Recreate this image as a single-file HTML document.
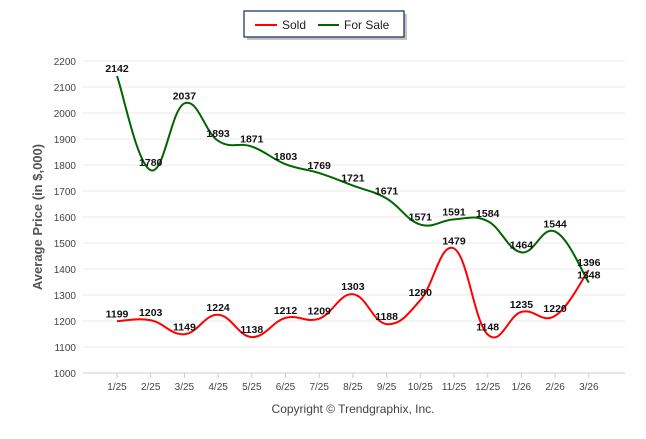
<!DOCTYPE html>
<html><head><meta charset="utf-8"><style>
body{margin:0;background:#fff;font-family:"Liberation Sans",sans-serif}
svg text{font-family:"Liberation Sans",sans-serif}
</style></head><body>
<svg width="646" height="434">
<g id="grid"></g><g id="axes"></g><g id="series"></g><g id="labels"></g>
<g>
<rect x="247" y="14" width="160" height="26" fill="#888" opacity="0.5"/>
<rect x="244" y="11" width="160" height="26" fill="#fff" stroke="#1f3864" stroke-width="1.3"/>
<line x1="255" y1="25" x2="277" y2="25" stroke="#f00" stroke-width="2"/>
<text x="282" y="29" font-size="12" fill="#222">Sold</text>
<line x1="318" y1="25" x2="339" y2="25" stroke="#006400" stroke-width="2"/>
<text x="344" y="29" font-size="12" fill="#222">For Sale</text>
</g>
<text transform="translate(42,217) rotate(-90)" text-anchor="middle" font-size="13" font-weight="bold" fill="#555">Average Price (in $,000)</text>
<text x="353" y="413" text-anchor="middle" font-size="12" fill="#444">Copyright © Trendgraphix, Inc.</text>
</svg>
<script>
const categories=["1/25","2/25","3/25","4/25","5/25","6/25","7/25","8/25","9/25","10/25","11/25","12/25","1/26","2/26","3/26"];
const sold=[1199,1203,1149,1224,1138,1212,1209,1303,1188,1280,1479,1148,1235,1220,1396];
const forSale=[2142,1780,2037,1893,1871,1803,1769,1721,1671,1571,1591,1584,1464,1544,1348];
const yTicks=[1000,1100,1200,1300,1400,1500,1600,1700,1800,1900,2000,2100,2200];
const NS="http://www.w3.org/2000/svg";
const x0=83,x1=625,yB=373,yT=61;
const step=33.7;
function xs(i){return 117+i*step;}
function ys(v){return yB-(v-1000)/1200*(yB-yT);}
function mk(tag,attrs,parent,txt){const e=document.createElementNS(NS,tag);for(const k in attrs)e.setAttribute(k,attrs[k]);if(txt!=null)e.textContent=txt;document.getElementById(parent).appendChild(e);return e;}
yTicks.forEach(v=>{
 const l=mk('line',{x1:x0,x2:x1,y1:ys(v),y2:ys(v),stroke:'#e8e8e8'},'grid');
 
 
 const t=mk('text',{x:76,y:ys(v)+4,'text-anchor':'end','font-size':'10',fill:'#444'},'axes',v);
 
 
});
const ax=mk('line',{x1:x0,x2:x1,y1:yB,y2:yB,stroke:'#ccc'},'axes');


categories.forEach((c,i)=>{
 const t=mk('text',{x:xs(i),y:390,'text-anchor':'middle','font-size':'10',fill:'#444'},'axes',c);
 
 
 const k=mk('line',{x1:xs(i),x2:xs(i),y1:yB,y2:yB+5,stroke:'#ccc'},'axes');
 
 
});
function path(vals){
 const p=vals.map((v,i)=>[xs(i),ys(v)]);
 let d='M'+p[0][0]+','+p[0][1];
 for(let i=0;i<p.length-1;i++){
  const a=p[Math.max(i-1,0)],b=p[i],c=p[i+1],e=p[Math.min(i+2,p.length-1)];
  const t=0.2;
  d+=' C'+(b[0]+(c[0]-a[0])*t)+','+(b[1]+(c[1]-a[1])*t)+' '+(c[0]-(e[0]-b[0])*t)+','+(c[1]-(e[1]-b[1])*t)+' '+c[0]+','+c[1];
 }
 return d;
}
const ps=mk('path',{d:path(sold),fill:'none',stroke:'#f00','stroke-width':2},'series');


const pf=mk('path',{d:path(forSale),fill:'none',stroke:'#006400','stroke-width':2},'series');


[sold,forSale].forEach((arr,si)=>arr.forEach((v,i)=>{
 const t=mk('text',{x:xs(i),y:ys(v)-4,'text-anchor':'middle','font-size':'10.5','font-weight':'bold',fill:'#111'},'labels',v);
 
 
}));
</script>
</body></html>
